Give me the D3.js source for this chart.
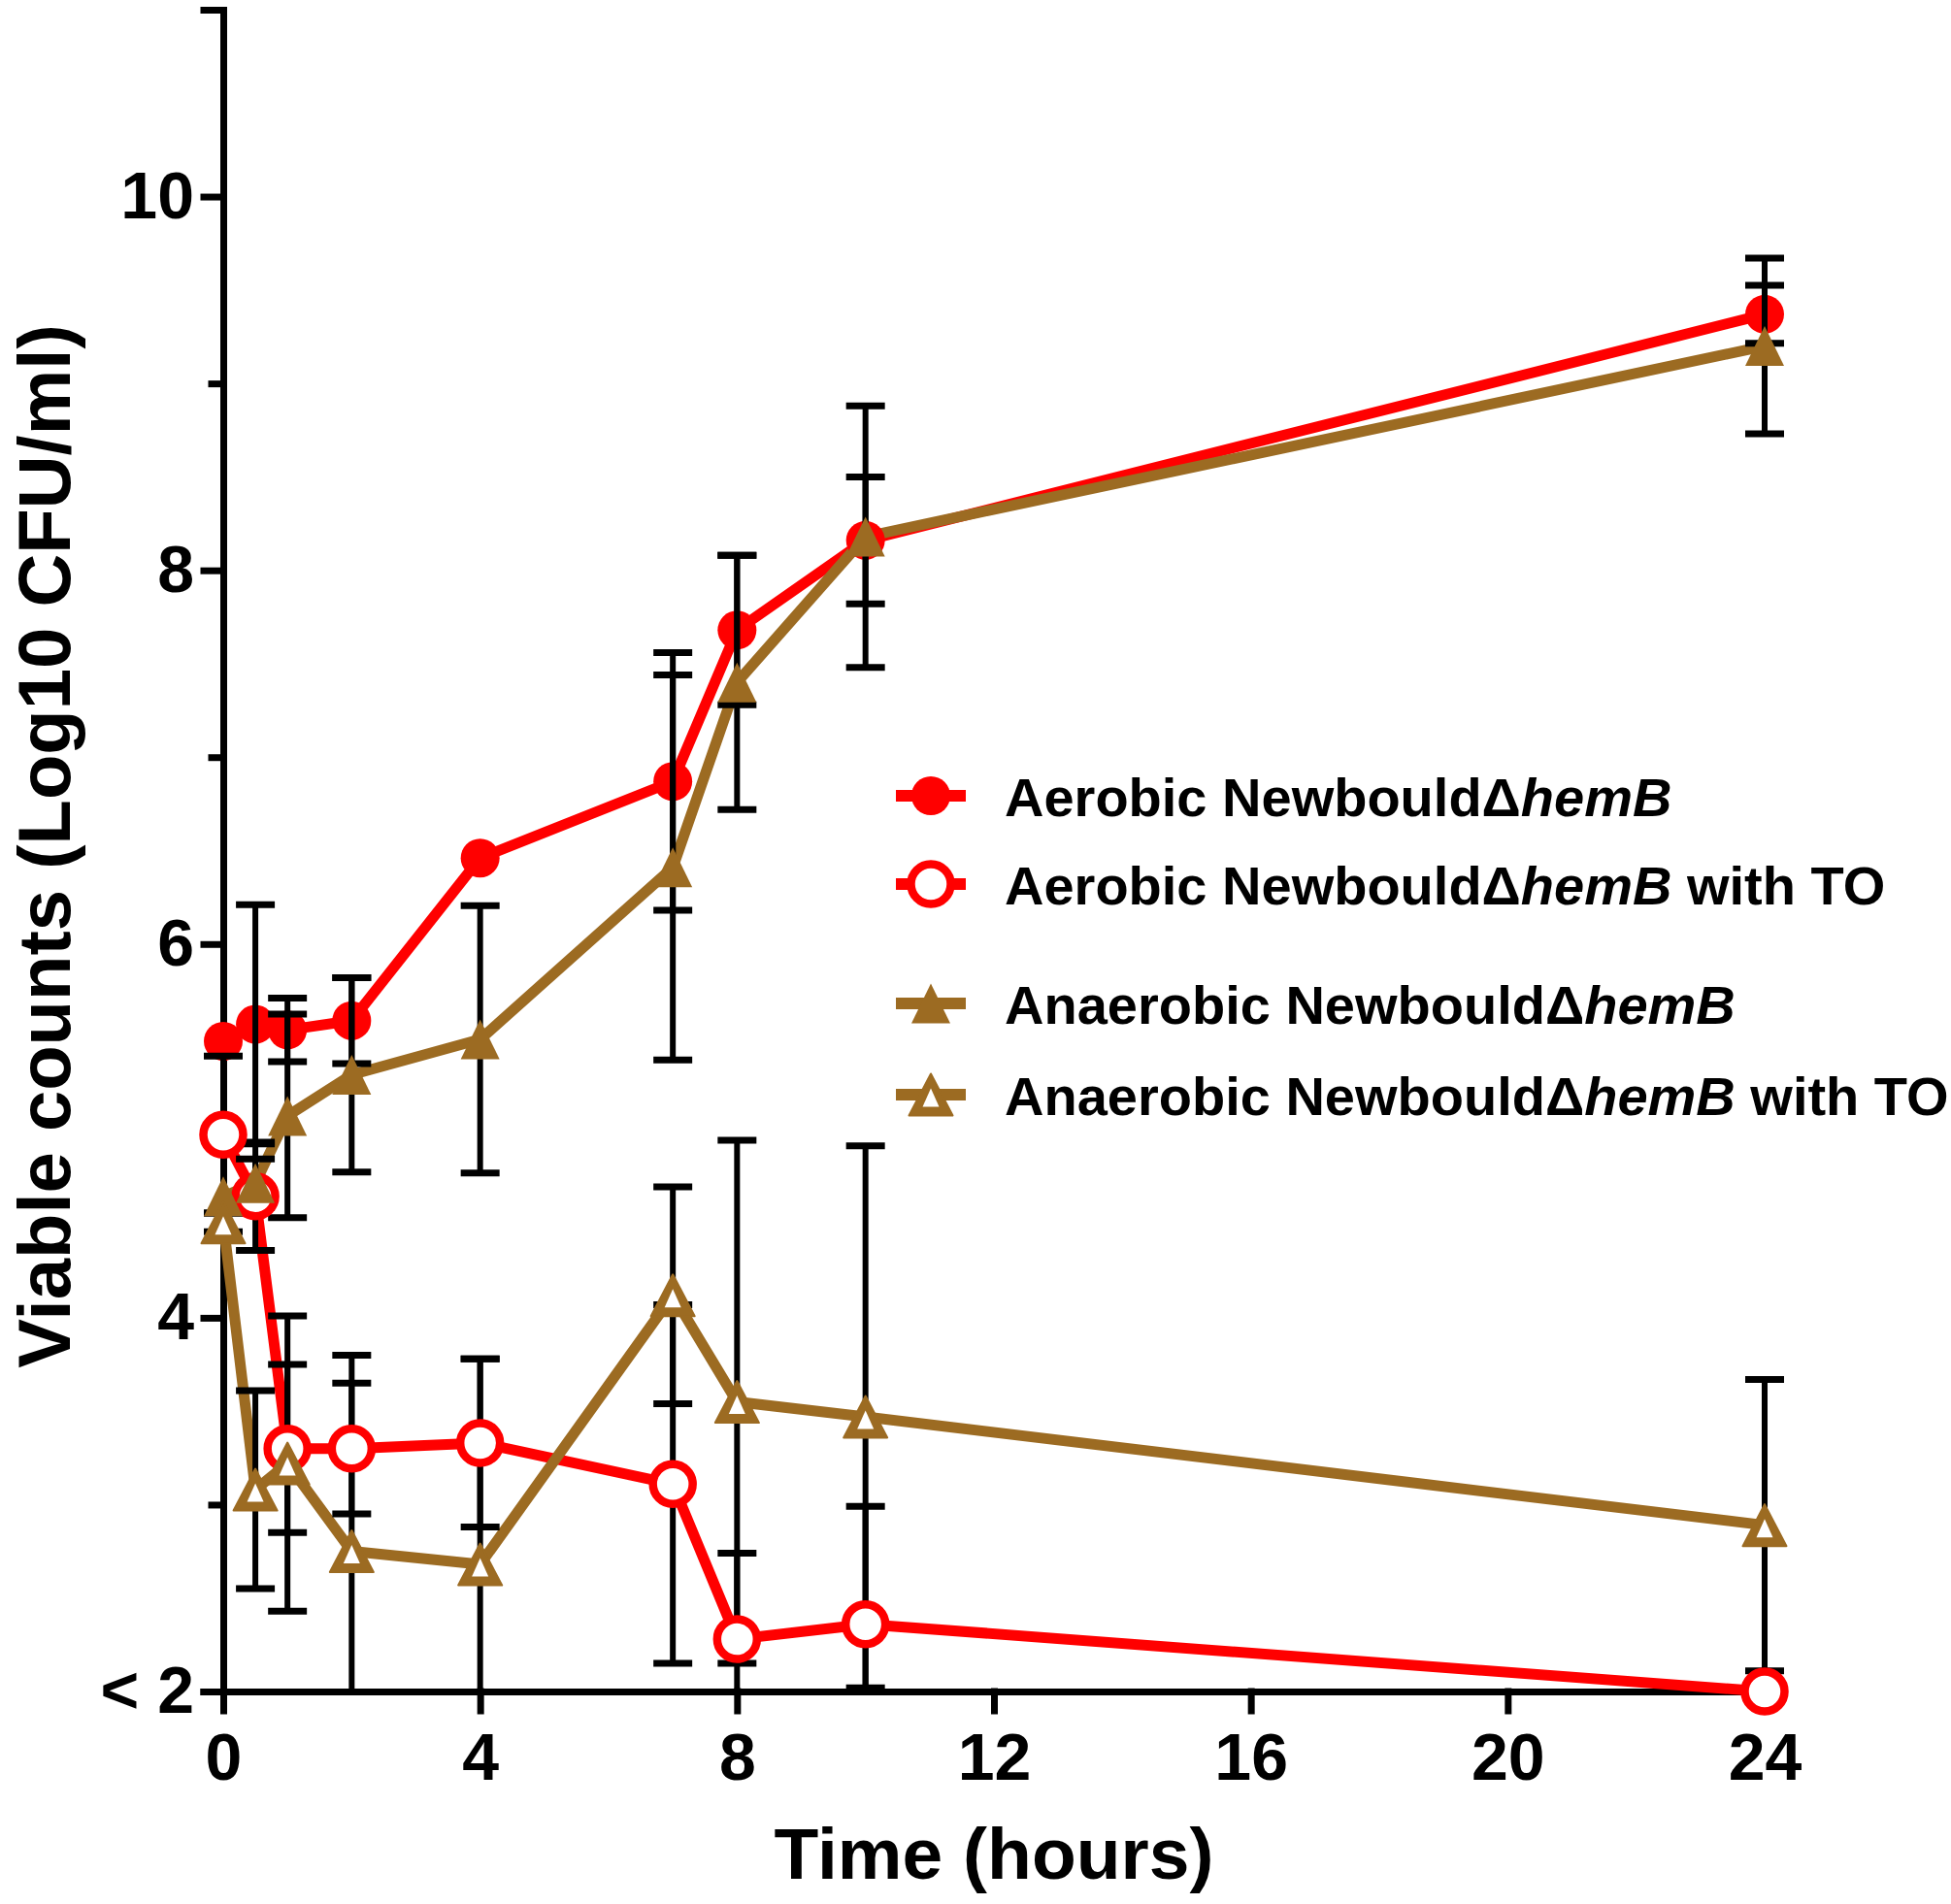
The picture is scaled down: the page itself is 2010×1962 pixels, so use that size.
<!DOCTYPE html>
<html>
<head>
<meta charset="utf-8">
<script src="https://cdn.jsdelivr.net/npm/d3@7"></script>
<style>
  body { margin: 0; background: #fff; }
  text { font-family: "Liberation Sans", Arial, sans-serif; font-weight: bold; }
</style>
</head>
<body>
<svg id="chart" width="2010" height="1962"></svg>
<script>
// values (log10 CFU/ml, mean and SD)
const times = [0, 0.5, 1, 2, 4, 7, 8, 10, 24];
const aerobic = [5.48, 5.57, 5.54, 5.59, 6.46, 6.87, 7.68, 8.16, 9.37];
const aerobicSD = [0, 0.64, 0.17, 0.23, 0, 0.69, 0.40, 0.34, 0.155];
const aerobicTO = [4.98, 4.65, 3.30, 3.30, 3.33, 3.11, 2.28, 2.36, 2.00];
const aerobicTOSD = [0.42, 0.29, 0.45, 0.35, 0.45, 0.96, 0.46, 0.63, 0];
const anaerobic = [4.65, 4.72, 5.08, 5.30, 5.49, 6.41, 7.40, 8.18, 9.20];
const anaerobicSD = [0, 0.13, 0.545, 0.52, 0.715, 1.03, 0.68, 0.70, 0.47];
const anaerobicTO = [4.51, 3.08, 3.22, 2.75, 2.68, 4.12, 3.55, 3.47, 2.89];
const anaerobicTOSD = [0.05, 0.53, 0.79, 1.05, 1.10, 0.58, 1.40, 1.45, 0.78];

const xTicks = [0, 4, 8, 12, 16, 20, 24];
const yMajor = [2, 4, 6, 8, 10];
const yMinor = [3, 5, 7, 9, 11];

const legendLabels = ["Aerobic Newbould", "Aerobic Newbould", "Anaerobic Newbould", "Anaerobic Newbould"];
const legendSuffix = ["", " with TO", "", " with TO"];

const RED = "#ff0000", BROWN = "#9c6b22";

const series = [
    {name: "aerobic", values: aerobic, sd: aerobicSD, color: RED, shape: "circle", open: false},
    {name: "aerobicTO", values: aerobicTO, sd: aerobicTOSD, color: RED, shape: "circle", open: true},
    {name: "anaerobic", values: anaerobic, sd: anaerobicSD, color: BROWN, shape: "triangle", open: false},
    {name: "anaerobicTO", values: anaerobicTO, sd: anaerobicTOSD, color: BROWN, shape: "triangle", open: true}
];
series.forEach(s => s.points = times.map((t, i) => ({t: t, v: s.values[i], e: s.sd[i]})));

const svg = d3.select("#chart");

const x = d3.scaleLinear().domain([0, 24]).range([230, 1818]);
const y = d3.scaleLinear().domain([2, 11]).range([1743, 10]);

function tri(w, h) {
    return "M0," + (-h / 2) + "L" + (w / 2) + "," + (h / 2) + "L" + (-w / 2) + "," + (h / 2) + "Z";
}

// draws one marker into a group already translated to its point
function marker(g, s) {
    if (s.shape === "circle") {
        if (s.open) {
            g.append("circle").attr("r", 20.5).attr("fill", "#fff")
                .attr("stroke", s.color).attr("stroke-width", 8.5);
        } else {
            g.append("circle").attr("r", 20).attr("fill", s.color);
        }
    } else {
        if (s.open) {
            g.append("path").attr("d", tri(45, 43)).attr("fill", s.color)
                .attr("stroke", s.color).attr("stroke-width", 2).attr("stroke-linejoin", "round");
            g.append("path").attr("d", tri(17, 19)).attr("transform", "translate(0,3)").attr("fill", "#fff");
        } else {
            g.append("path").attr("d", tri(40, 41)).attr("fill", s.color);
        }
    }
}

// axes
let yAxisMajor = d3.axisLeft(y).tickValues(yMajor).tickSize(20).tickPadding(10)
    .tickFormat(d => d === 2 ? "< 2" : d);
let yAxisMinor = d3.axisLeft(y).tickValues(yMinor).tickSize(12).tickFormat("");
let xAxis = d3.axisBottom(x).tickValues(xTicks).tickSize(20).tickSizeOuter(0).tickPadding(23);

let gx = svg.append("g").attr("transform", "translate(0," + y(2) + ")").call(xAxis);
let gy = svg.append("g").attr("transform", "translate(" + x(0) + ",0)").call(yAxisMajor);
let gy2 = svg.append("g").attr("transform", "translate(" + x(0) + ",0)").call(yAxisMinor);
gy2.select(".domain").remove();

[gx, gy, gy2].forEach(g => {
    g.selectAll("path, line").attr("stroke", "#000").attr("stroke-width", 7).attr("stroke-linecap", "square");
    g.selectAll("text").attr("fill", "#000").style("font-size", "68px");
});
gx.select(".domain").attr("stroke-linecap", "butt");

svg.append("text")
    .attr("x", (x(0) + x(24)) / 2).attr("y", 1936)
    .attr("text-anchor", "middle").style("font-size", "75px")
    .text("Time (hours)");

svg.append("text")
    .attr("transform", "translate(72," + 872 + ") rotate(-90)")
    .attr("text-anchor", "middle").style("font-size", "76px")
    .text("Viable counts (Log10 CFU/ml)");

// connecting lines
let line = d3.line().x(d => x(d.t)).y(d => y(d.v));
svg.append("g").selectAll("path").data(series).enter().append("path")
    .attr("d", s => line(s.points))
    .attr("fill", "none")
    .attr("stroke", s => s.color)
    .attr("stroke-width", 11)
    .attr("stroke-linejoin", "round");

function drawMarkers(s) {
    svg.append("g").attr("class", "markers-" + s.name)
        .selectAll("g").data(s.points).enter().append("g")
        .attr("transform", d => "translate(" + x(d.t) + "," + y(d.v) + ")")
        .each(function () { marker(d3.select(this), s); });
}

drawMarkers(series[0]);

// error bars, lower end clipped at the detection limit
let bars = svg.append("g");
series.forEach(s => {
    s.points.filter(d => d.e > 0).forEach(d => {
        let top = d.v + d.e, bot = Math.max(d.v - d.e, 2);
        bars.append("line")
            .attr("x1", x(d.t)).attr("x2", x(d.t))
            .attr("y1", y(top)).attr("y2", y(bot))
            .attr("stroke", "#000").attr("stroke-width", 6);
        let caps = [top];
        if (d.v - d.e >= 2) caps.push(d.v - d.e);
        caps.forEach(c => {
            bars.append("line")
                .attr("x1", x(d.t) - 20).attr("x2", x(d.t) + 20)
                .attr("y1", y(c)).attr("y2", y(c))
                .attr("stroke", "#000").attr("stroke-width", 7);
        });
    });
});

drawMarkers(series[1]);
drawMarkers(series[2]);
drawMarkers(series[3]);

// legend
const legendY = [820, 911, 1034, 1128];
let legend = svg.append("g").selectAll("g").data(series).enter().append("g")
    .attr("transform", (s, i) => "translate(0," + legendY[i] + ")");
legend.append("line")
    .attr("x1", 923).attr("x2", 995)
    .attr("stroke", s => s.color).attr("stroke-width", 12);
legend.append("g").attr("transform", "translate(959,0)")
    .each(function (s) { marker(d3.select(this), s); });
let lt = legend.append("text").attr("x", 1035).attr("y", 21).style("font-size", "56px");
lt.append("tspan").text((s, i) => legendLabels[i]);
lt.append("tspan").text("\u0394");
lt.append("tspan").style("font-style", "italic").text("hemB");
lt.append("tspan").text((s, i) => legendSuffix[i]);
</script>
</body>
</html>
